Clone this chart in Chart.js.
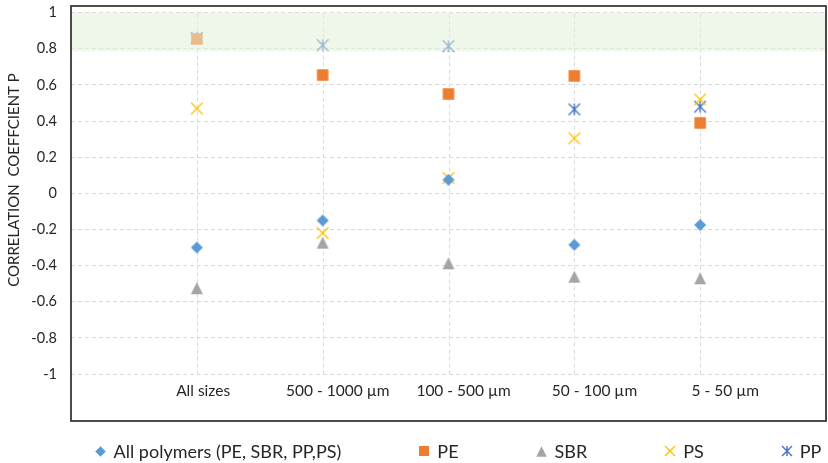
<!DOCTYPE html>
<html>
<head>
<meta charset="utf-8">
<script src="https://cdn.jsdelivr.net/npm/chart.js@4/dist/chart.umd.min.js"></script>
<style>
  html, body { margin: 0; padding: 0; background: #ffffff; }
  #c { display: block; }
</style>
</head>
<body>
<canvas id="c" width="828" height="463"></canvas>
<script>
// Particle size classes (x categories)
const sizeClasses = ['All sizes', '500 - 1000 \u00b5m', '100 - 500 \u00b5m', '50 - 100 \u00b5m', '5 - 50 \u00b5m'];

// Correlation coefficient per size class
const allPolymers = [-0.30, -0.15, 0.075, -0.285, -0.175];
const pe          = [0.855, 0.655, 0.55, 0.65, 0.39];
const sbr         = [-0.525, -0.273, -0.387, -0.461, -0.47];
const ps          = [0.47, -0.22, 0.085, 0.305, 0.52];
const pp          = [0.86, 0.82, 0.815, 0.465, 0.48];

// Y-axis tick values
const yTicks = [1, 0.8, 0.6, 0.4, 0.2, 0, -0.2, -0.4, -0.6, -0.8, -1];

// Highlighted band of strong correlation
const bandRange = [0.787, 1];

const FONT = 'Lato, "Open Sans", sans-serif';
const TEXT = '#262626';

// Marker glyphs rendered to small canvases and used as point styles
function makeMarker(kind, size, color) {
  const pad = 2;
  const c = document.createElement('canvas');
  c.width = c.height = Math.ceil(size + pad * 2);
  const g = c.getContext('2d');
  const m = c.width / 2, h = size / 2;
  g.fillStyle = color;
  g.strokeStyle = color;
  g.lineWidth = 1.4;
  g.beginPath();
  if (kind === 'diamond') {
    g.moveTo(m, m - h); g.lineTo(m + h, m); g.lineTo(m, m + h); g.lineTo(m - h, m);
    g.closePath(); g.fill();
  } else if (kind === 'square') {
    g.fillRect(m - h, m - h, size, size);
  } else if (kind === 'triangle') {
    g.moveTo(m, m - h); g.lineTo(m + h, m + h); g.lineTo(m - h, m + h);
    g.closePath(); g.fill();
  } else if (kind === 'x') {
    g.moveTo(m - h, m - h); g.lineTo(m + h, m + h);
    g.moveTo(m + h, m - h); g.lineTo(m - h, m + h);
    g.stroke();
  } else if (kind === 'star') {
    g.moveTo(m - h, m - h); g.lineTo(m + h, m + h);
    g.moveTo(m + h, m - h); g.lineTo(m - h, m + h);
    g.moveTo(m, m - h); g.lineTo(m, m + h);
    g.stroke();
  }
  return c;
}

const series = [
  { label: 'All polymers (PE, SBR, PP,PS)', values: allPolymers, kind: 'diamond',  color: '#5B9BD5', size: 12 },
  { label: 'PE',  values: pe,  kind: 'square',   color: '#ED7D31', size: 11.5 },
  { label: 'SBR', values: sbr, kind: 'triangle', color: '#A5A5A5', size: 12 },
  { label: 'PS',  values: ps,  kind: 'x',        color: '#FFC000', size: 11.5 },
  { label: 'PP',  values: pp,  kind: 'star',     color: '#4472C4', size: 11.5 }
];

const datasets = series.map(s => ({
  label: s.label,
  data: s.values.map((v, i) => ({ x: i + 1, y: v })),
  pointStyle: makeMarker(s.kind, s.size, s.color),
  pointRadius: s.size / 2,
  pointHoverRadius: s.size / 2,
  backgroundColor: s.color,
  borderColor: s.color
}));

// Where the size-class labels sit along the x scale
const labelAnchors = [1.05, 2.12, 3.12, 4.16, 5.2];

const decorations = {
  id: 'decorations',
  beforeDatasetsDraw(chart) {
    const { ctx } = chart;
    const x = chart.scales.x, y = chart.scales.y;
    // vertical dashed gridlines at each size class
    ctx.save();
    ctx.strokeStyle = '#D9D9D9';
    ctx.lineWidth = 1;
    ctx.setLineDash([4, 3]);
    const yt = Math.round(y.getPixelForValue(1)) + 0.5;
    const yb = Math.round(y.getPixelForValue(-1)) + 0.5;
    sizeClasses.forEach((_, i) => {
      const px = Math.round(x.getPixelForValue(i + 1)) + 0.5;
      ctx.beginPath();
      ctx.moveTo(px, yt);
      ctx.lineTo(px, yb);
      ctx.stroke();
    });
    ctx.restore();
  },
  afterDatasetsDraw(chart) {
    const { ctx, chartArea: a } = chart;
    const x = chart.scales.x, y = chart.scales.y;
    // translucent green band laid over the markers
    ctx.save();
    ctx.fillStyle = 'rgba(226, 240, 216, 0.55)';
    const top = y.getPixelForValue(bandRange[1]);
    const bot = y.getPixelForValue(bandRange[0]);
    ctx.fillRect(a.left, top, a.right - a.left, bot - top);
    ctx.restore();

    // size-class labels inside the plot
    ctx.save();
    ctx.font = '15.5px ' + FONT;
    ctx.fillStyle = TEXT;
    ctx.textAlign = 'center';
    ctx.textBaseline = 'middle';
    const ly = y.getPixelForValue(-1.094);
    sizeClasses.forEach((t, i) => {
      ctx.fillText(t, x.getPixelForValue(labelAnchors[i]), ly);
    });
    ctx.restore();
  },
  afterDraw(chart) {
    const { ctx, chartArea: a } = chart;
    // plot frame
    ctx.save();
    ctx.strokeStyle = '#333333';
    ctx.lineWidth = 1.75;
    ctx.strokeRect(a.left, a.top, a.right - a.left, a.bottom - a.top);
    ctx.restore();

    // y-axis title
    ctx.save();
    ctx.font = '15px ' + FONT;
    ctx.fillStyle = TEXT;
    ctx.textAlign = 'center';
    ctx.textBaseline = 'middle';
    ctx.translate(14, 180);
    ctx.rotate(-Math.PI / 2);
    ctx.fillText('CORRELATION  COEFFCIENT P', 0, 0);
    ctx.restore();

    // legend row
    ctx.save();
    ctx.font = '18px ' + FONT;
    ctx.fillStyle = TEXT;
    ctx.textBaseline = 'middle';
    const gap = 83, textOff = 13, ly = 451;
    const icons = series.map(s => makeMarker(s.kind, s.size - 1.5, s.color));
    const widths = series.map(s => ctx.measureText(s.label).width);
    let total = 0;
    series.forEach((s, i) => { total += textOff + widths[i] + (i < series.length - 1 ? gap : 0); });
    let cx = 461 - total / 2;
    series.forEach((s, i) => {
      const ic = icons[i];
      ctx.drawImage(ic, Math.round(cx - ic.width / 2), Math.round(ly - ic.height / 2));
      ctx.fillText(s.label, cx + textOff, ly + 1);
      cx += textOff + widths[i] + gap;
    });
    ctx.restore();
  }
};

new Chart(document.getElementById('c'), {
  type: 'scatter',
  data: { datasets },
  options: {
    responsive: false,
    devicePixelRatio: 1,
    animation: false,
    events: [],
    layout: { autoPadding: false, padding: { left: 0, right: 2, top: 6, bottom: 42 } },
    plugins: { legend: { display: false }, tooltip: { enabled: false } },
    scales: {
      x: { type: 'linear', min: 0, max: 6, display: false },
      y: {
        type: 'linear',
        min: -1.26,
        max: 1.037,
        afterBuildTicks(axis) { axis.ticks = yTicks.map(v => ({ value: v })); },
        afterFit(axis) {
          axis.width = 71;
          axis.paddingTop = 0;
          axis.paddingBottom = 0;
          axis.paddingLeft = 0;
          axis.paddingRight = 0;
        },
        grid: { color: '#D9D9D9', lineWidth: 1, drawTicks: false },
        border: { display: false, dash: [4, 3] },
        ticks: {
          padding: 14,
          color: TEXT,
          font: { family: FONT, size: 14.5 },
          callback: v => String(Math.round(v * 10) / 10)
        }
      }
    }
  },
  plugins: [decorations]
});
</script>
</body>
</html>
